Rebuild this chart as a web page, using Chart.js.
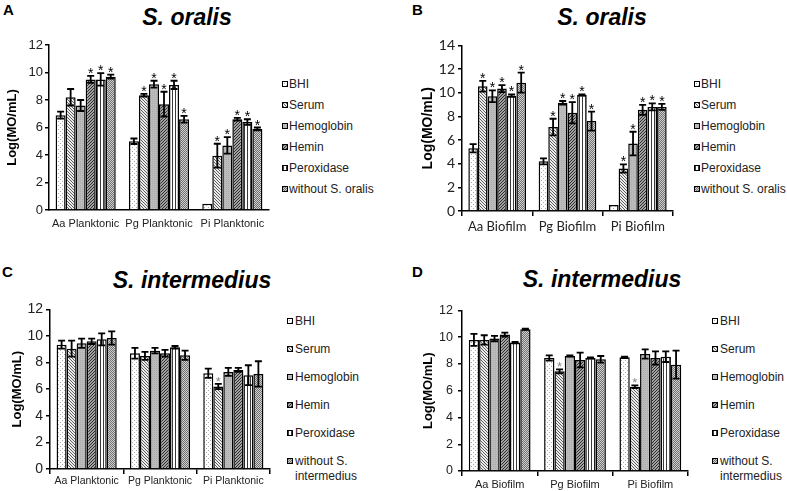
<!DOCTYPE html>
<html><head><meta charset="utf-8">
<script src="https://cdn.jsdelivr.net/npm/chart.js@4/dist/chart.umd.min.js"></script>
<style>
body{margin:0;background:#fff;width:787px;height:491px;overflow:hidden;position:relative;font-family:"Liberation Sans",Arial,sans-serif}
canvas.c{position:absolute}
.t{position:absolute;font-weight:bold;font-style:italic;font-size:23px;line-height:23px;white-space:nowrap;transform:translate(-50%,-50%);color:#000}
.p{position:absolute;font-weight:bold;font-size:15px;line-height:15px;color:#000}
.lg{position:absolute;font-size:12px;line-height:14px;color:#222;white-space:nowrap}
.sw{position:absolute}
</style></head><body>
<div class="p" style="left:3px;top:2px">A</div>
<div class="p" style="left:412px;top:2px">B</div>
<div class="p" style="left:2px;top:264px">C</div>
<div class="p" style="left:412px;top:264px">D</div>
<div class="t" style="left:187px;top:17px">S. oralis</div>
<div class="t" style="left:602px;top:17px">S. oralis</div>
<div class="t" style="left:192px;top:280px">S. intermedius</div>
<div class="t" style="left:602px;top:279px">S. intermedius</div>
<canvas class="c" id="cA"></canvas>
<canvas class="c" id="cB"></canvas>
<canvas class="c" id="cC"></canvas>
<canvas class="c" id="cD"></canvas>
<div id="legends"></div>
<script>
// ---------- data ----------
const seriesNames = ['BHI', 'Serum', 'Hemoglobin', 'Hemin', 'Peroxidase'];
const lastOralis = 'without S. oralis';
const lastIntermedius = ['without S.', 'intermedius'];
const catsPlanktonic = ['Aa Planktonic', 'Pg Planktonic', 'Pi Planktonic'];
const catsBiofilm = ['Aa Biofilm', 'Pg Biofilm', 'Pi Biofilm'];
const ticksA = [0, 2, 4, 6, 8, 10, 12];
const ticksB = [0, 2, 4, 6, 8, 10, 12, 14];

// rows: BHI, Serum, Hemoglobin, Hemin, Peroxidase, without; columns: Aa, Pg, Pi
const A_mean = [[6.9, 5.0, 0.45], [8.2, 8.35, 3.95], [7.6, 9.15, 4.7], [9.5, 7.7, 6.6], [9.5, 9.1, 6.4], [9.7, 6.6, 5.9]];
const A_err  = [[0.25, 0.2, 0], [0.6, 0.1, 0.87], [0.4, 0.25, 0.6], [0.25, 0.9, 0.1], [0.45, 0.3, 0.2], [0.15, 0.25, 0.1]];
const A_sig  = [[0, 0, 0], [0, 1, 1], [0, 1, 1], [1, 1, 1], [1, 1, 1], [1, 1, 1]];

const B_mean = [[5.3, 4.2, 0.5], [10.55, 7.1, 3.6], [9.7, 9.15, 5.7], [10.35, 8.3, 8.55], [9.75, 9.8, 8.8], [10.85, 7.6, 8.8]];
const B_err  = [[0.35, 0.25, 0], [0.45, 0.7, 0.35], [0.5, 0.15, 1.0], [0.3, 0.9, 0.42], [0.1, 0.05, 0.3], [0.85, 0.8, 0.25]];
const B_sig  = [[0, 0, 0], [1, 1, 1], [1, 1, 1], [1, 1, 1], [1, 1, 1], [1, 1, 1]];

const C_mean = [[9.35, 8.7, 7.2], [9.05, 8.5, 6.2], [9.45, 8.9, 7.3], [9.6, 8.7, 7.45], [9.75, 9.15, 7.05], [9.85, 8.55, 7.15]];
const C_err  = [[0.3, 0.4, 0.35], [0.6, 0.3, 0.2], [0.35, 0.2, 0.3], [0.2, 0.25, 0.15], [0.45, 0.1, 0.75], [0.5, 0.35, 0.95]];
const C_sig  = [[0, 0, 0], [0, 0, 1], [0, 0, 0], [0, 0, 0], [0, 0, 0], [0, 0, 0]];

const D_mean = [[9.8, 8.45, 8.5], [9.8, 7.45, 6.3], [9.9, 8.6, 8.75], [10.2, 8.3, 8.45], [9.6, 8.45, 8.55], [10.6, 8.35, 7.95]];
const D_err  = [[0.45, 0.2, 0.05], [0.35, 0.15, 0.1], [0.2, 0.05, 0.35], [0.15, 0.55, 0.5], [0.05, 0.05, 0.4], [0.05, 0.25, 1.05]];
const D_sig  = [[0, 0, 0], [0, 1, 1], [0, 0, 0], [0, 0, 0], [0, 0, 0], [0, 0, 0]];

// ---------- patterns ----------
function tile(w, h, bg, pts, col) {
  const c = document.createElement('canvas'); c.width = w; c.height = h;
  const x = c.getContext('2d'); x.fillStyle = bg; x.fillRect(0, 0, w, h);
  x.fillStyle = col; pts.forEach(p => x.fillRect(p[0], p[1], 1, 1));
  return c;
}
const tiles = [
  tile(4, 4, '#ffffff', [[0, 0], [2, 2]], '#a8a8a8'),                // BHI dots
  tile(3, 3, '#ececec', [[0, 0], [1, 1], [2, 2]], '#5e5e5e'),         // Serum hatch
  tile(2, 2, '#bcbcbc', [[0, 0]], '#acacac'),                         // Hemoglobin
  tile(3, 3, '#a2a2a2', [[2, 0], [1, 1], [0, 2]], '#2c2c2c'),         // Hemin
  tile(3, 1, '#ffffff', [[1, 0]], '#3a3a3a'),                         // Peroxidase stripes
  tile(2, 2, '#d0d0d0', [[0, 0], [1, 1]], '#707070')                  // without
];
const patCtx = document.createElement('canvas').getContext('2d');
const patterns = tiles.map(t => patCtx.createPattern(t, 'repeat'));

// ---------- error bars + stars ----------
const errPlugin = {
  id: 'err',
  afterDatasetsDraw(chart, args, opts) {
    const ctx = chart.ctx, ys = chart.scales.y;
    ctx.save();
    chart.data.datasets.forEach((ds, di) => {
      const meta = chart.getDatasetMeta(di);
      meta.data.forEach((bar, i) => {
        const v = ds.data[i], e = ds.errors[i];
        const x = bar.x;
        const top = ys.getPixelForValue(v + e), bot = ys.getPixelForValue(v - e);
        if (e > 0) {
          ctx.strokeStyle = '#000'; ctx.lineWidth = 1.8;
          ctx.beginPath();
          ctx.moveTo(x, top); ctx.lineTo(x, bot);
          ctx.moveTo(x - 3.5, top); ctx.lineTo(x + 3.5, top);
          ctx.moveTo(x - 3.5, bot); ctx.lineTo(x + 3.5, bot);
          ctx.stroke();
        }
        if (ds.sig[i]) {
          ctx.fillStyle = opts.starColor; ctx.font = opts.starFont;
          ctx.textAlign = 'center'; ctx.textBaseline = 'alphabetic';
          ctx.fillText('*', x, top + 2);
        }
      });
    });
    ctx.restore();
  }
};

function buildPanel(id, o) {
  const cv = document.getElementById(id);
  cv.width = o.w; cv.height = o.h;
  cv.style.left = o.left + 'px'; cv.style.top = o.top + 'px';
  const datasets = o.mean.map((m, k) => ({
    label: o.names[k], data: m, errors: o.err[k], sig: o.sig[k],
    backgroundColor: patterns[k], borderColor: '#000', borderWidth: 1.5,
    categoryPercentage: 0.82, barPercentage: 1.0
  }));
  new Chart(cv, {
    type: 'bar',
    data: { labels: o.cats, datasets },
    options: {
      responsive: false, animation: false, events: [],
      layout: { padding: { top: 10, right: 2, left: 0, bottom: 0 } },
      plugins: { legend: { display: false }, tooltip: { enabled: false },
        err: { starColor: o.star, starFont: o.starFont } },
      scales: {
        x: {
          afterFit: s => { s.height = o.xH; },
          grid: { display: o.xTicks, drawOnChartArea: false, offset: true, tickLength: 5, color: '#000', lineWidth: 1.5 },
          border: { display: true, color: '#000', width: 1.5 },
          ticks: { font: o.xFont, color: '#222', padding: o.xPad, maxRotation: 0, autoSkip: false }
        },
        y: {
          min: 0, max: o.yMax,
          afterFit: s => { s.width = o.yW; },
          afterBuildTicks: s => { s.ticks = o.yTicks.map(v => ({ value: v })); },
          grid: { display: true, drawOnChartArea: false, tickLength: 4, color: '#000', lineWidth: 1.5 },
          border: { display: true, color: '#000', width: 1.5 },
          ticks: { font: o.yFont, color: '#222', padding: o.yPad },
          title: { display: true, text: 'Log(MO/mL)', font: o.tFont, color: '#000', padding: { top: o.tPad, bottom: 0 } }
        }
      }
    },
    plugins: [errPlugin]
  });
}

const arial = 'Liberation Sans';
buildPanel('cA', { left: 0, top: 35, w: 271, h: 205, yW: 49, xH: 30, yMax: 12, yTicks: ticksA,
  cats: catsPlanktonic, names: seriesNames.concat([lastOralis]), mean: A_mean, err: A_err, sig: A_sig,
  xTicks: false, xFont: { family: arial, size: 11 }, xPad: 2, yFont: { family: arial, size: 13 }, yPad: 2,
  tFont: { family: arial, size: 13, weight: 'bold' }, tPad: 4.2, star: '#000', starFont: '14px ' + arial });
buildPanel('cB', { left: 395, top: 34, w: 280, h: 207, yW: 67, xH: 30, yMax: 14, yTicks: ticksB,
  cats: catsBiofilm, names: seriesNames.concat([lastOralis]), mean: B_mean, err: B_err, sig: B_sig,
  xTicks: true, xFont: { family: 'Lato', size: 13 }, xPad: 3, yFont: { family: 'Lato', size: 14 }, yPad: 3,
  tFont: { family: arial, size: 14, weight: 'bold' }, tPad: 24.6, star: '#000', starFont: '14px ' + arial });
buildPanel('cC', { left: 0, top: 298, w: 272, h: 193, yW: 50, xH: 22, yMax: 12, yTicks: ticksA,
  cats: catsPlanktonic, names: seriesNames.concat([lastIntermedius.join(' ')]), mean: C_mean, err: C_err, sig: C_sig,
  xTicks: true, xFont: { family: arial, size: 10.5 }, xPad: 1, yFont: { family: arial, size: 14 }, yPad: 3,
  tFont: { family: arial, size: 13, weight: 'bold' }, tPad: 9.2, star: '#888', starFont: '13px ' + arial });
buildPanel('cD', { left: 395, top: 298, w: 295, h: 193, yW: 67, xH: 20, yMax: 12, yTicks: ticksA,
  cats: catsBiofilm, names: seriesNames.concat([lastIntermedius.join(' ')]), mean: D_mean, err: D_err, sig: D_sig,
  xTicks: true, xFont: { family: arial, size: 11 }, xPad: 2, yFont: { family: arial, size: 12.5 }, yPad: 5,
  tFont: { family: arial, size: 13, weight: 'bold' }, tPad: 25.2, star: '#888', starFont: '13px ' + arial });

// ---------- legends (HTML) ----------
function legend(swX, txX, rows, names) {
  const host = document.getElementById('legends');
  names.forEach((n, k) => {
    const lines = Array.isArray(n) ? n : [n];
    const sw = document.createElement('canvas'); sw.className = 'sw'; sw.width = 6; sw.height = 6;
    sw.style.left = swX + 'px'; sw.style.top = (rows[k] - 3) + 'px';
    const x = sw.getContext('2d'); x.fillStyle = patterns[k]; x.fillRect(0, 0, 6, 6);
    x.strokeStyle = '#000'; x.lineWidth = 1; x.strokeRect(0.5, 0.5, 5, 5);
    host.appendChild(sw);
    lines.forEach((ln, j) => {
      const d = document.createElement('div'); d.className = 'lg'; d.textContent = ln;
      d.style.left = txX + 'px'; d.style.top = (rows[k] - 7 + j * 15) + 'px';
      host.appendChild(d);
    });
  });
}
const rowsTop = [84, 105, 126, 147, 168, 189];
const rowsBottom = [321, 349, 377, 405, 433, 461];
legend(282, 289, rowsTop, seriesNames.concat([lastOralis]));
legend(694, 701, rowsTop, seriesNames.concat([lastOralis]));
legend(287, 295, rowsBottom, seriesNames.concat([lastIntermedius]));
legend(712, 720, rowsBottom, seriesNames.concat([lastIntermedius]));
</script>
</body></html>
